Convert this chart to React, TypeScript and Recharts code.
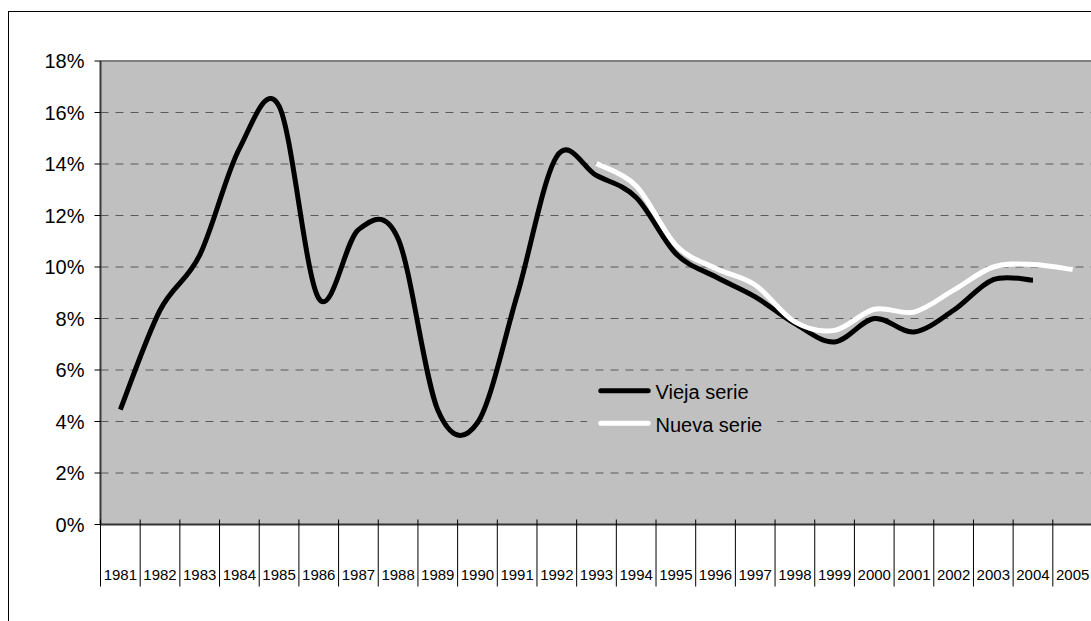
import React from 'react';
import { LineChart, Line, XAxis, YAxis, CartesianGrid, Legend, ReferenceLine } from 'recharts';

// ---- data ----
const years = [
  '1981', '1982', '1983', '1984', '1985', '1986', '1987', '1988', '1989', '1990',
  '1991', '1992', '1993', '1994', '1995', '1996', '1997', '1998', '1999', '2000',
  '2001', '2002', '2003', '2004', '2005',
];
const viejaSerie: (number | null)[] = [
  4.46, 8.32, 10.46, 14.6, 16.25, 8.78, 11.45, 11.1, 4.45, 3.95,
  8.9, 14.3, 13.55, 12.7, 10.52, 9.62, 8.84, 7.8, 7.09, 8.0,
  7.48, 8.32, 9.51, 9.49, null,
];
const nuevaSerie: (number | null)[] = [
  null, null, null, null, null, null, null, null, null, null,
  null, null, 14.02, 13.15, 10.85, 9.95, 9.3, 7.87, 7.54, 8.36,
  8.25, 9.1, 10.0, 10.1, 9.9,
];
const yTicks = [0, 2, 4, 6, 8, 10, 12, 14, 16, 18];
const seriesNames = ['Vieja serie', 'Nueva serie'];

const data = years.map((year, i) => ({ year, vieja: viejaSerie[i], nueva: nuevaSerie[i] }));

// ---- layout ----
const FONT = '"Liberation Sans", Arial, Helvetica, sans-serif';
const CHART_W = 1120;
const CHART_H = 620;
const MARGIN = { top: 53, right: 35.5, bottom: 43.5, left: 0 };
const Y_AXIS_W = 92.5;
const X_AXIS_H = 60;
const X_TICK_SIZE = 6;
const X_TICK_MARGIN = 2;
const PLOT_W = CHART_W - MARGIN.left - MARGIN.right - Y_AXIS_W;
const BAND = PLOT_W / years.length;

// Excel-like smoothed line (Catmull-Rom through every point)
const excelCurve = (context: any) => {
  let pts: [number, number][] = [];
  return {
    areaStart() {},
    areaEnd() {},
    lineStart() {
      pts = [];
    },
    point(x: number, y: number) {
      pts.push([+x, +y]);
    },
    lineEnd() {
      const n = pts.length;
      if (!n) return;
      context.moveTo(pts[0][0], pts[0][1]);
      if (n === 1) {
        context.lineTo(pts[0][0], pts[0][1]);
        return;
      }
      for (let i = 0; i < n - 1; i++) {
        const p0 = pts[i - 1] || pts[i];
        const p1 = pts[i];
        const p2 = pts[i + 1];
        const p3 = pts[i + 2] || p2;
        const c1x = p1[0] + (p2[0] - p0[0]) / 6;
        const c1y = p1[1] + (p2[1] - p0[1]) / 6;
        const c2x = p2[0] - (p3[0] - p1[0]) / 6;
        const c2y = p2[1] - (p3[1] - p1[1]) / 6;
        context.bezierCurveTo(c1x, c1y, c2x, c2y, p2[0], p2[1]);
      }
    },
  };
};

const XTick = (props: any) => {
  const { x, y, payload, index } = props;
  const axisY = y - X_TICK_SIZE - X_TICK_MARGIN;
  const half = BAND / 2;
  return (
    <g>
      <line x1={x - half} x2={x - half} y1={axisY - 5} y2={axisY + 62} stroke="#000" strokeWidth={1} />
      {index === years.length - 1 ? (
        <line x1={x + half} x2={x + half} y1={axisY - 5} y2={axisY + 62} stroke="#000" strokeWidth={1} />
      ) : null}
      <text
        x={x}
        y={axisY + 55.5}
        textAnchor="middle"
        fontSize={15}
        fontFamily={FONT}
        fill="#000"
      >
        {payload.value}
      </text>
    </g>
  );
};

const renderLegend = (props: any) => {
  const items = ([...(props.payload || [])] as any[]).sort(
    (a, b) => seriesNames.indexOf(String(a.value)) - seriesNames.indexOf(String(b.value)),
  );
  return (
    <svg width={190} height={64} style={{ display: 'block', background: '#c0c0c0' }}>
      {items.map((it, i) => {
        const cy = 16.7 + i * 32.6;
        return (
          <g key={String(it.value)}>
            <line
              x1={13.8}
              x2={61.2}
              y1={cy}
              y2={cy}
              stroke={it.color}
              strokeWidth={5}
              strokeLinecap="round"
            />
            <text x={68.5} y={cy + 8.4} fontSize={20} fontFamily={FONT} fill="#000">
              {it.value}
            </text>
          </g>
        );
      })}
    </svg>
  );
};

export default function App() {
  return (
    <div
      style={{
        position: 'fixed',
        left: 0,
        top: 0,
        width: 1091,
        height: 621,
        overflow: 'hidden',
        background: '#fff',
      }}
    >
      <div
        style={{
          position: 'absolute',
          left: 8,
          top: 11,
          width: 2000,
          height: 2000,
          borderLeft: '1px solid #000',
          borderTop: '1px solid #000',
          boxSizing: 'border-box',
        }}
      />
      <div style={{ position: 'absolute', left: 8, top: 8 }}>
        <LineChart
          width={CHART_W}
          height={CHART_H}
          data={data}
          margin={MARGIN}
          style={{ fontFamily: FONT }}
        >
          <CartesianGrid
            vertical={false}
            horizontal
            fill="#c0c0c0"
            fillOpacity={1}
            stroke="#5a5a5a"
            strokeDasharray="8 7"
          />
          <XAxis
            dataKey="year"
            type="category"
            scale="band"
            interval={0}
            height={X_AXIS_H}
            tickSize={X_TICK_SIZE}
            tickMargin={X_TICK_MARGIN}
            tickLine={false}
            axisLine={{ stroke: '#333', strokeWidth: 2 }}
            tick={<XTick />}
          />
          <YAxis
            type="number"
            domain={[0, 18]}
            ticks={yTicks}
            interval={0}
            width={Y_AXIS_W}
            tickSize={6}
            tickMargin={10}
            tickFormatter={(v: number) => `${v}%`}
            tick={{ fontSize: 20, fill: '#000', fontFamily: FONT }}
            tickLine={{ stroke: '#000', strokeWidth: 1 }}
            axisLine={{ stroke: '#3a3a3a', strokeWidth: 2 }}
          />
          <ReferenceLine y={18} stroke="#808080" strokeWidth={2} />
          <Legend
            layout="horizontal"
            verticalAlign="middle"
            align="center"
            itemSorter={null as any}
            wrapperStyle={{ left: 579, top: 366, width: 190, height: 64 }}
            content={renderLegend}
          />
          <Line
            dataKey="vieja"
            name={seriesNames[0]}
            type={excelCurve as any}
            stroke="#000"
            strokeWidth={5}
            dot={false}
            activeDot={false}
            connectNulls={false}
            isAnimationActive={false}
          />
          <Line
            dataKey="nueva"
            name={seriesNames[1]}
            type={excelCurve as any}
            stroke="#fff"
            strokeWidth={5}
            dot={false}
            activeDot={false}
            connectNulls={false}
            isAnimationActive={false}
          />
        </LineChart>
      </div>
    </div>
  );
}
